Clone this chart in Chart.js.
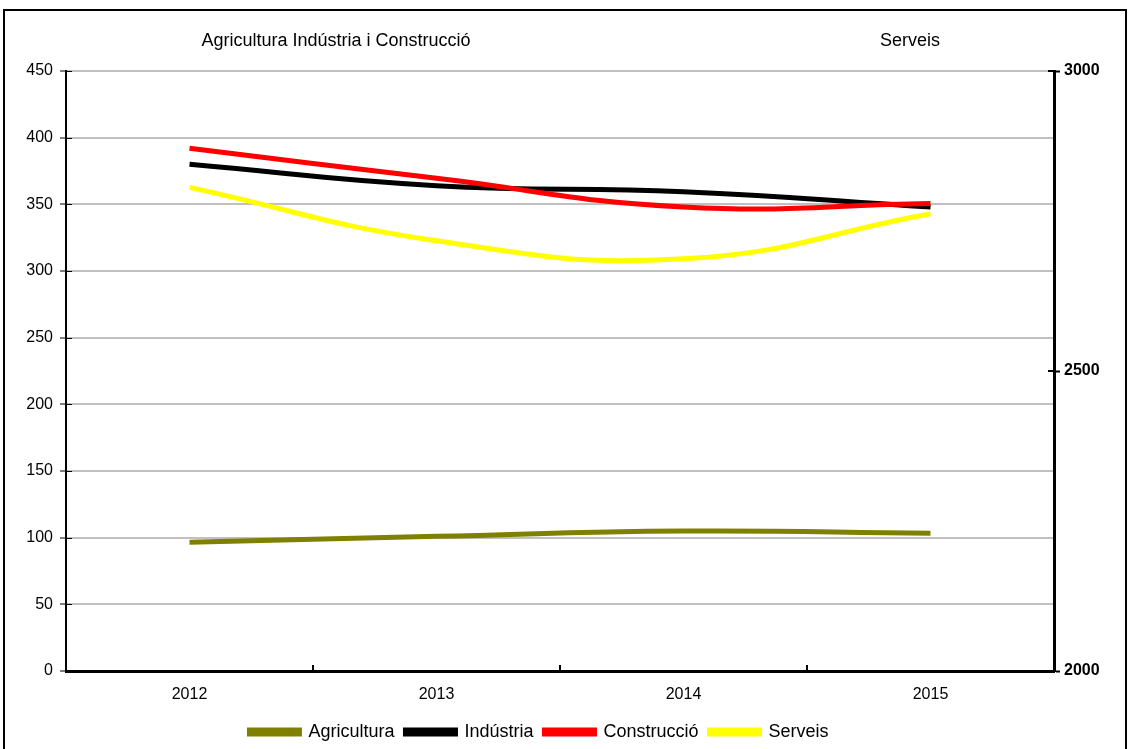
<!DOCTYPE html>
<html>
<head>
<meta charset="utf-8">
<title>Ocupats per sectors</title>
<script src="https://cdn.jsdelivr.net/npm/chart.js@4/dist/chart.umd.min.js"></script>
<style>
  html, body { margin: 0; padding: 0; background: #fff; }
  #wrap { width: 1130px; height: 749px; }
</style>
</head>
<body>
<div id="wrap"><canvas id="grafic" width="1130" height="749"></canvas></div>
<script>
const anys = ['2012', '2013', '2014', '2015'];

// eix esquerre
const agricultura = [96.5, 101, 105, 103.3];
const industria = [380, 364, 359.5, 348];
const construccio = [392, 369.5, 348, 350.7];
// eix dret
const serveis = [2806, 2717, 2687, 2762];

const FONT = "'Liberation Sans', Arial, sans-serif";

// Marc exterior, títols dels eixos i marques de divisió
const decoracio = {
    id: 'decoracio',
    afterLayout(chart) {
        // la llegenda queda una mica desplaçada a l'esquerra i avall
        const lg = chart.legend;
        lg.left -= 26;
        lg.right -= 26;
        lg.top += 2;
        lg.bottom += 2;
    },
    beforeDraw(chart) {
        const ctx = chart.ctx;
        ctx.save();
        ctx.fillStyle = '#fff';
        ctx.fillRect(0, 0, chart.width, chart.height);
        ctx.strokeStyle = '#000';
        ctx.lineWidth = 2;
        ctx.strokeRect(4, 10, 1122, 800);
        ctx.restore();
    },
    afterDraw(chart) {
        const ctx = chart.ctx;
        const area = chart.chartArea;
        const x = chart.scales.x;
        const y = chart.scales.y;
        const y1 = chart.scales.y1;
        ctx.save();
        ctx.fillStyle = '#000';
        ctx.font = '18px ' + FONT;
        ctx.textAlign = 'center';
        ctx.textBaseline = 'middle';
        ctx.fillText('Agricultura Indústria i Construcció', area.left + 270, 41);
        ctx.fillText('Serveis', area.right - 144, 41);

        ctx.strokeStyle = '#000';
        ctx.lineWidth = 2;
        // marques entre categories, cap amunt
        for (let i = 0; i < anys.length - 1; i++) {
            const px = Math.round((x.getPixelForValue(i) + x.getPixelForValue(i + 1)) / 2);
            ctx.beginPath();
            ctx.moveTo(px, area.bottom);
            ctx.lineTo(px, area.bottom - 6);
            ctx.stroke();
        }
        // part interior de les marques dels eixos verticals
        y.ticks.forEach(t => {
            const py = Math.round(y.getPixelForValue(t.value)) + 0.5;
            ctx.lineWidth = 1;
            ctx.beginPath();
            ctx.moveTo(area.left, py);
            ctx.lineTo(area.left + 6, py);
            ctx.stroke();
        });
        y1.ticks.forEach(t => {
            const py = Math.round(y1.getPixelForValue(t.value));
            ctx.lineWidth = 2;
            ctx.beginPath();
            ctx.moveTo(area.right - 6, py);
            ctx.lineTo(area.right, py);
            ctx.stroke();
        });
        ctx.restore();
    }
};

function serie(label, dades, color, eix, ordre) {
    return {
        label: label,
        data: dades,
        borderColor: color,
        backgroundColor: color,
        borderWidth: 5,
        pointRadius: 0,
        tension: 0.45,
        yAxisID: eix,
        order: ordre
    };
}

new Chart(document.getElementById('grafic'), {
    type: 'line',
    data: {
        labels: anys,
        datasets: [
            serie('Agricultura', agricultura, '#808000', 'y', 1),
            serie('Indústria', industria, '#000000', 'y', 1),
            serie('Construcció', construccio, '#ff0000', 'y', 0),
            serie('Serveis', serveis, '#ffff00', 'y1', 1)
        ]
    },
    options: {
        responsive: false,
        devicePixelRatio: 1,
        animation: false,
        layout: { padding: { top: 71, left: 0, right: 0, bottom: 0 } },
        plugins: {
            title: { display: false },
            tooltip: { enabled: false },
            legend: {
                position: 'bottom',
                labels: {
                    boxWidth: 50,
                    boxHeight: 4,
                    padding: 11,
                    color: '#000',
                    font: { family: FONT, size: 18 },
                    sort: (a, b) => a.datasetIndex - b.datasetIndex
                }
            }
        },
        scales: {
            x: {
                offset: true,
                grid: { display: false, drawTicks: false },
                border: { display: true, color: '#000', width: 3 },
                ticks: { color: '#000', font: { family: FONT, size: 16 }, padding: 14, maxRotation: 0 },
                afterFit: s => { s.height = 39; }
            },
            y: {
                position: 'left',
                min: 0,
                max: 450,
                ticks: { stepSize: 50, color: '#000', font: { family: FONT, size: 16 }, padding: 7 },
                grid: { color: '#c0c0c0', lineWidth: 2, tickColor: '#000', tickLength: 6, tickWidth: 1 },
                border: { display: true, color: '#000', width: 2 },
                afterFit: s => { s.width = 66; }
            },
            y1: {
                position: 'right',
                min: 2000,
                max: 3000,
                ticks: {
                    stepSize: 500,
                    color: '#000',
                    font: { family: FONT, size: 16, weight: 'bold' },
                    padding: 4,
                    callback: v => String(v)
                },
                grid: { drawOnChartArea: false, tickColor: '#000', tickLength: 6, tickWidth: 2 },
                border: { display: true, color: '#000', width: 3 },
                afterFit: s => { s.width = 76; }
            }
        }
    },
    plugins: [decoracio]
});
</script>
</body>
</html>
